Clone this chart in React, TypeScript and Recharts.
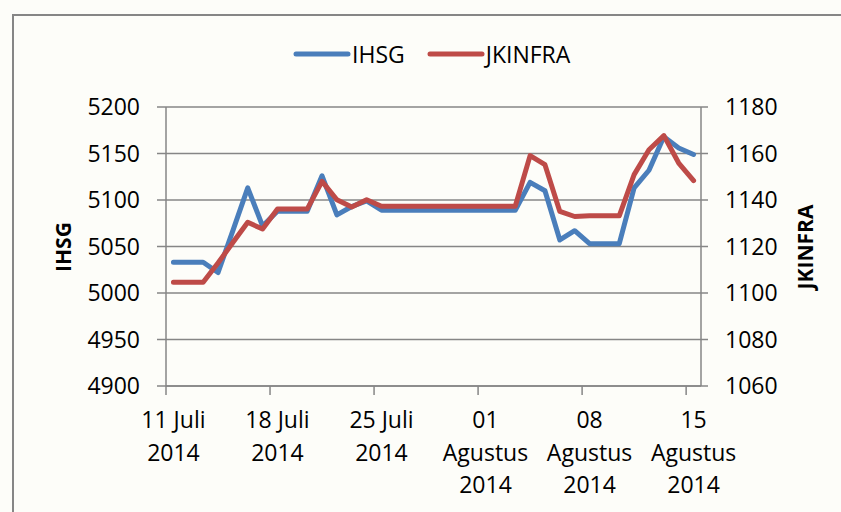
import React from 'react';
import { LineChart, Line, XAxis, YAxis, CartesianGrid, Legend } from 'recharts';

// one point per calendar day, 11 Juli .. 15 Agustus 2014 (weekends/holidays hold last close)
const days = [
  '11 Jul', '12 Jul', '13 Jul', '14 Jul', '15 Jul', '16 Jul', '17 Jul', '18 Jul', '19 Jul',
  '20 Jul', '21 Jul', '22 Jul', '23 Jul', '24 Jul', '25 Jul', '26 Jul', '27 Jul', '28 Jul',
  '29 Jul', '30 Jul', '31 Jul', '01 Agu', '02 Agu', '03 Agu', '04 Agu', '05 Agu', '06 Agu',
  '07 Agu', '08 Agu', '09 Agu', '10 Agu', '11 Agu', '12 Agu', '13 Agu', '14 Agu', '15 Agu',
];

const ihsg = [
  5033, 5033, 5033, 5022, 5067, 5113, 5072, 5088, 5088,
  5088, 5126, 5084, 5093, 5099, 5089, 5089, 5089, 5089,
  5089, 5089, 5089, 5089, 5089, 5089, 5119, 5110, 5057,
  5067, 5053, 5053, 5053, 5113, 5132, 5168, 5156, 5149,
];

const jkinfra = [
  1104.6, 1104.6, 1104.6, 1112.9, 1121.7, 1130.4, 1127.5, 1136.1, 1136.1,
  1136.1, 1148.0, 1140.1, 1137.0, 1140.1, 1137.3, 1137.3, 1137.3, 1137.3,
  1137.3, 1137.3, 1137.3, 1137.3, 1137.3, 1137.3, 1159.1, 1155.2, 1135.1,
  1132.9, 1133.2, 1133.2, 1133.2, 1150.9, 1161.6, 1167.7, 1155.9, 1148.3,
];

const xTicks = [0, 7, 14, 21, 28, 35];
const xTickLabels = [
  ['11 Juli', '2014'],
  ['18 Juli', '2014'],
  ['25 Juli', '2014'],
  ['01', 'Agustus', '2014'],
  ['08', 'Agustus', '2014'],
  ['15', 'Agustus', '2014'],
];
const leftTicks = [4900, 4950, 5000, 5050, 5100, 5150, 5200];
const rightTicks = [1060, 1080, 1100, 1120, 1140, 1160, 1180];

const data = days.map((d, i) => ({ x: i + 0.5, day: d, ihsg: ihsg[i], jkinfra: jkinfra[i] }));

const FONT = '"Open Sans", sans-serif';
const BLUE = '#4a7ebb';
const RED = '#be4b48';
const GRAY = '#868686';

const PLOT_LEFT = 166;
const PLOT_RIGHT = 701;
const CAT_W = (PLOT_RIGHT - PLOT_LEFT) / days.length;

const DateTick = (props: any) => {
  const { x, y, payload } = props;
  const idx = xTicks.indexOf(payload.value);
  const lines = xTickLabels[idx] || [];
  return (
    <text x={x + CAT_W / 2} y={y} textAnchor="middle" fontFamily={FONT} fontSize={23} fill="#000">
      {lines.map((l, i) => (
        <tspan key={i} x={x + CAT_W / 2} dy={i === 0 ? 33 : 32.5}>{l}</tspan>
      ))}
    </text>
  );
};

const LegendContent = () => (
  <div style={{ display: 'flex', alignItems: 'center', fontFamily: FONT, fontSize: 23, color: '#000' }}>
    <svg width={58} height={10}><line x1={3} y1={5} x2={55} y2={5} stroke={BLUE} strokeWidth={5} strokeLinecap="round" /></svg>
    <span style={{ marginLeft: 1, marginRight: 22 }}>IHSG</span>
    <svg width={58} height={10}><line x1={3} y1={5} x2={55} y2={5} stroke={RED} strokeWidth={5} strokeLinecap="round" /></svg>
    <span style={{ marginLeft: 1 }}>JKINFRA</span>
  </div>
);

export default function App() {
  return (
    <div style={{ position: 'absolute', left: 0, top: 0, width: 841, height: 512, overflow: 'hidden', background: '#fdfdf9' }}>
      {/* chart frame: only top and left edges fall inside the picture */}
      <div style={{ position: 'absolute', left: 12, top: 14, width: 900, height: 600, borderTop: `2px solid ${GRAY}`, borderLeft: `2px solid ${GRAY}` }} />
      <LineChart
        width={841}
        height={512}
        data={data}
        margin={{ top: 107, right: 0, bottom: 0, left: 0 }}
        style={{ position: 'absolute', left: 0, top: 0 }}
      >
        <CartesianGrid vertical={false} stroke={GRAY} strokeWidth={1.5} yAxisId="left" />
        <XAxis
          dataKey="x"
          type="number"
          domain={[0, days.length]}
          ticks={xTicks}
          height={126}
          interval={0}
          stroke={GRAY}
          strokeWidth={1.5}
          tickSize={9}
          tickMargin={0}
          tick={<DateTick />}
        />
        <YAxis
          yAxisId="left"
          domain={[4900, 5200]}
          ticks={leftTicks}
          width={PLOT_LEFT}
          stroke={GRAY}
          strokeWidth={1.5}
          tickSize={9}
          tickMargin={17}
          tick={{ fill: '#000', fontFamily: FONT, fontSize: 23 }}
          label={{
            content: () => (
              <text x={63} y={247} transform="rotate(-90, 63, 247)" textAnchor="middle" dominantBaseline="central"
                fontFamily={FONT} fontWeight="bold" fontSize={21} fill="#000">IHSG</text>
            ),
          }}
        />
        <YAxis
          yAxisId="right"
          orientation="right"
          domain={[1060, 1180]}
          ticks={rightTicks}
          width={841 - PLOT_RIGHT}
          stroke={GRAY}
          strokeWidth={1.5}
          tickSize={7}
          tickMargin={17}
          tick={{ fill: '#000', fontFamily: FONT, fontSize: 23 }}
          label={{
            content: () => (
              <text x={805} y={247} transform="rotate(-90, 805, 247)" textAnchor="middle" dominantBaseline="central"
                fontFamily={FONT} fontWeight="bold" fontSize={21} fill="#000">JKINFRA</text>
            ),
          }}
        />
        <Legend
          layout="horizontal"
          verticalAlign="middle"
          align="center"
          wrapperStyle={{ top: 38, left: 293, width: 300, height: 32 }}
          content={<LegendContent />}
        />
        <Line yAxisId="left" type="linear" dataKey="ihsg" name="IHSG" stroke={BLUE} strokeWidth={5}
          strokeLinecap="round" strokeLinejoin="round" dot={false} activeDot={false} isAnimationActive={false} />
        <Line yAxisId="right" type="linear" dataKey="jkinfra" name="JKINFRA" stroke={RED} strokeWidth={5}
          strokeLinecap="round" strokeLinejoin="round" dot={false} activeDot={false} isAnimationActive={false} />
      </LineChart>
    </div>
  );
}
